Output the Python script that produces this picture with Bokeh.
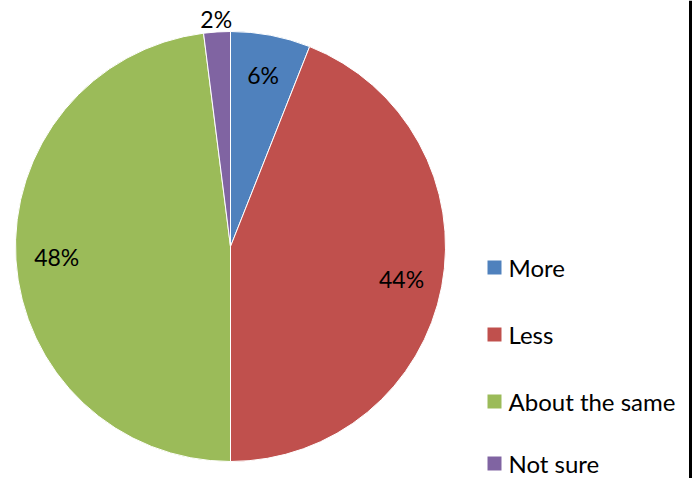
import math
from bokeh.plotting import figure
from bokeh.models import ColumnDataSource, Range1d, Span
from bokeh.core.properties import value
from bokeh.embed import file_html
from bokeh.resources import INLINE

categories = ["More", "Less", "About the same", "Not sure"]
percents = [6, 44, 48, 2]
colors = ["#4F81BD", "#C0504D", "#9BBB59", "#8064A2"]

W, H = 699, 478
cx, cy, R = 230, 478 - 246, 215

starts, ends, lx, ly = [], [], [], []
cum = 0
for v in percents:
    s = math.pi / 2 - cum / 100 * 2 * math.pi
    e = s - v / 100 * 2 * math.pi
    starts.append(s)
    ends.append(e)
    mid = (s + e) / 2
    rr = 0.81 * R if v >= 5 else 1.06 * R
    lx.append(cx + rr * math.cos(mid))
    ly.append(cy + rr * math.sin(mid))
    cum += v

src = ColumnDataSource(dict(cat=categories, start=starts, end=ends, color=colors,
                            lx=lx, ly=ly, lab=[f"{v}%" for v in percents]))

p = figure(width=W, height=H, output_backend="svg", toolbar_location=None,
           x_range=Range1d(0, W), y_range=Range1d(0, H), min_border=0)
p.axis.visible = False
p.grid.visible = False
p.outline_line_color = None

p.wedge(x=cx, y=cy, radius=R, start_angle="start", end_angle="end", direction="clock",
        fill_color="color", line_color="white", line_width=1, source=src)
p.text(x="lx", y="ly", text="lab", source=src, text_align="center", text_baseline="middle",
       text_font=value("Lato"), text_font_size="23px", text_color="black")

# legend
leg_y = [H - 267, H - 334, H - 401, H - 463]
lsrc = ColumnDataSource(dict(y=leg_y, cat=categories, color=colors))
p.rect(x=494, y="y", width=14, height=14, fill_color="color", line_color=None, source=lsrc)
p.text(x=508, y="y", text="cat", source=lsrc, text_align="left", text_baseline="middle",
       text_font=value("Lato"), text_font_size="24px", text_color="black")

p.add_layout(Span(location=690, dimension="height", line_color="black", line_width=3))

open("out.html", "w").write(file_html(p, INLINE))
